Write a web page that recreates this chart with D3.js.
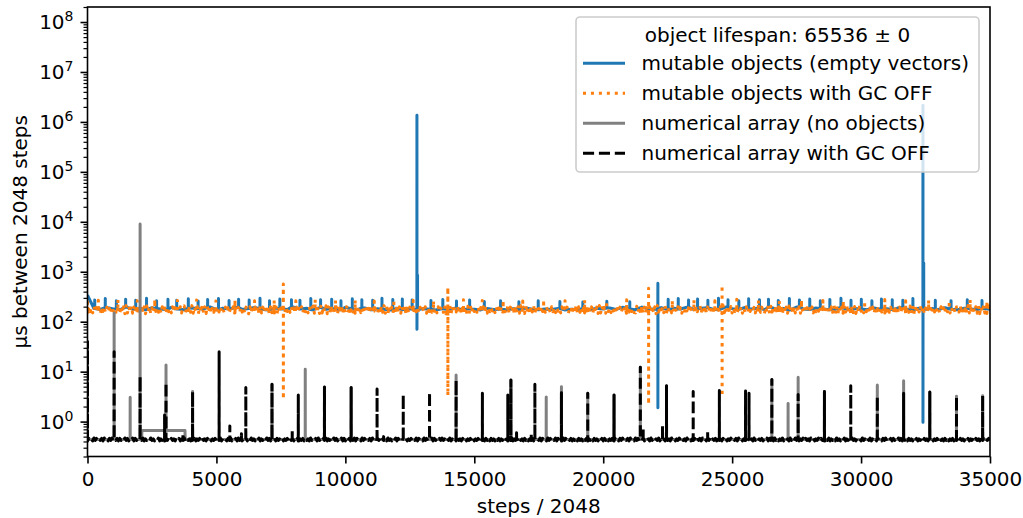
<!DOCTYPE html>
<html><head><meta charset="utf-8">
<script src="https://cdn.jsdelivr.net/npm/d3@7"></script>
<style>body{margin:0;background:#fff;} svg{display:block;font-family:"DejaVu Sans",sans-serif;}</style>
</head><body><svg id="chart" width="1023" height="518"></svg>
<script>
// ---------------- data ----------------
const X_MAX = 35000;
const xTickValues = [0, 5000, 10000, 15000, 20000, 25000, 30000, 35000];
const yTickExponents = [0, 1, 2, 3, 4, 5, 6, 7, 8];
const xLabel = "steps / 2048";
const yLabel = "µs between 2048 steps";
const legendTitle = "object lifespan: 65536 ± 0";
const seriesNames = ["mutable objects (empty vectors)", "mutable objects with GC OFF",
                     "numerical array (no objects)", "numerical array with GC OFF"];

// mutable objects (blue): base level sampled evenly over 0..35000
const blueBase = [340,
 184,176,192,180,172,196,178,186,174,190,182,176,194,180,173,188,184,178,198,174,
 186,180,192,176,183,194,178,172,188,182,176,196,180,186,174,192,178,184,173,194,
 180,176,188,174,182,178,172,186,176,180,174,184,178,172,182,176,186,174,180,178,
 172,184,176,178,174,182,176,188,178,174,180,176,184,172,178,176,182,174,186,180,
 188,176,194,180,174,196,182,178,192,174,186,180,196,176,184,190,178,174,196,182,
 176,192,180,186,174,194,178,184,172,196,180,176,188,182,174,178,192,176,184,180,
 174,188,178,182,176,192,180,174,186,178,184,176,190,178,174,186,180,176,184,178];
// single-sample spikes: [step, high] or [step, high, low]
const blueSpikes = [
 [280,272],[690,290],[1120,262],[1480,282],[1870,268],[2290,295],[2680,264],[3120,280],[3460,270],[3910,288],
 [4290,260],[4660,278],[5080,290],[5490,266],[5860,282],[6270,272],[6690,296],[7060,264],[7460,284],[7910,276],
 [8240,268],[8660,292],[9040,274],[9470,282],[9830,264],[10270,288],[10640,276],[11060,270],[11420,294],[11840,278],
 [12210,284],[12590,272],[12776,1.36e6,71],[12800,850],
 [13320,266],[13780,278],[14310,260],[14820,272],[15390,254],[16020,264],[16730,250],[17480,262],[18320,254],[19210,248],
 [20140,258],[21030,252],[22120,590,1.9],
 [22520,280],[22910,292],[23310,272],[23660,284],[24060,268],[24470,296],[24840,276],[25260,264],[25640,288],[26060,274],
 [26410,282],[26790,266],[27220,290],[27610,272],[28010,284],[28420,262],[28790,278],[29220,294],[29610,270],[30010,282],
 [30420,264],[30790,286],[31210,276],[31620,268],[32010,290],[32400,2.15e6,0.97],[32430,1500],
 [32880,270],[33490,262],[34120,274],[34690,266]];

// mutable objects with GC OFF (orange)
const orangeBase = [
 152,196,158,188,150,200,162,192,154,186,148,198,160,190,152,194,156,184,150,200,164,188,154,196,158,
 146,204,152,198,144,210,150,200,156,206,148,196,154,208,146,202,150,212,152,198,144,206,156,200,148,
 190,150,198,160,186,154,194,148,200,162,188,152,196,158,184,150,198,164,192,154,186,160,200,150,194,
 208,150,198,146,204,154,210,148,196,152,206,144,200,156,212,150,198,146,204,152,208,148,196,154,202,
 148,192,156,200,162,186,150,196,158,190,154,184,164,198,150,188,160,194,152,200,156,186,148,196,162,
 144,200,152,210,148,198,156,204,146,208,150,196,154,212,148,202,144,198,152,206,150,210,146,200,156,
 188,158,194,150,200,160,184,154,198,162,190,148,196,156,186,164,200,152,192,158,184,150,198,160,190,
 206,148,212,152,196,146,204,150,200,156,208,144,198,152,210,148,202,154,196,146,206,150,212,144,198,
 154,200,150,188,162,196,156,184,148,194,160,200,152,186,158,192,164,198,150,184,156,196,162,190,148,
 152,198,146,206,154,210,148,200,144,204,156,196,150,208,146,212,152,198,148,202,154,206,144,210,150,
 196,160,186,152,198,158,190,150,194,164,184,156,200,148,192,160,188,154,196,162,186,150,200,158,184,
 200,154,208,144,196,150,212,146,204,152,198,156,206,148,200,144,210,150,196,154,204,146,208,152,198,
 160,188,154,196,150,192,162,200,156,186,148,194,158,190,164,184,152,198,160,188,150,196,156,192,162,
 146,210,150,196,156,204,144,208,152,200,148,212,154,198,146,206,150,202,144,196,156,210,148,204,152,
 184,150,198,160,190,154,196,164,186,148,200,158,188,152,194,162,184,150,198,156,190,160,196,148,186,
 198,144,206,152,212,148,200,154,196,146,204,150,208,144,210,156,198,148,202,152,196,146,212,150,206,
 156,194,148,200,160,186,152,192,164,198,150,184,158,196,154,188,162,200,148,190,156,194,160,186,152,
 150,204,156,198,144,208,148,196,152,212,146,200,154,206,150,198,144,210,156,202,148,196,152,208,146,
 198,162,184,150,196,158,188,154,200,160,192,148,186,164,198,152,190,156,184,162,196,150,200,158,188,
 212,148,200,146,206,152,198,156,210,144,204,150,196,148,208,154,200,146,212,152,198,144,206,150,202,
 150,190,160,198,154,184,162,196,148,188,156,200,152,192,160,186,164,194,150,198,158,184,154,196,160,
 144,196,152,210,148,204,156,200,146,208,150,198,154,212,144,202,152,196,148,206,156,210,146,200,150,
 192,154,200,148,186,160,196,152,190,164,184,156,198,150,194,158,188,162,200,148,186,156,192,160,198,
 204,150,198,154,212,146,206,144,200,152,196,148,210,156,204,150,198,144,208,152,202,146,196,154,210,
 162,186,150,194,158,200,154,188,160,196,148,190,164,184,152,198,156,192,150,186,162,200,154,194,158,
 148,208,144,200,156,196,150,212,152,204,146,198,154,206,148,210,144,202,150,196,156,208,152,200,146,
 188,152,196,162,184,150,198,156,192,160,186,148,200,164,190,154,196,158,184,150,194,162,188,152,198,
 200,156,210,148,198,144,206,152,212,150,196,146,204,154,200,148,208,144,198,156,210,150,202,146,206,
 170];
const orangeSpikes = [
 [0,250],[420,268],[1180,275],[1930,262],[2610,280],[3490,266],[4230,272],[4980,260],[5720,278],[6480,264],[7240,270],
 [7595,570,2.8],[8080,262],[8830,276],[9620,266],[10380,272],[11120,260],[11880,280],[12630,268],[13420,262],
 [13975,490,3.3],[14580,274],[15310,266],[16120,270],[16880,260],[17690,278],[18520,264],[19280,272],[20130,262],
 [20910,276],[21760,470,2.2],[22680,266],[23520,272],[24330,262],[24610,540,3.2],[25180,280],[26020,268],[26830,262],
 [27690,274],[28520,266],[29310,270],[30140,260],[30920,278],[31730,264],[32620,272],[33420,262],[34230,276],[34880,268]];

// numerical array (gray): base level as [step, value], spikes [step, top]
const grayBase = [[0, 0.44], [2100, 0.44], [2110, 0.66], [3780, 0.66], [3790, 0.44], [35000, 0.44]];
const graySpikes = [[0, 30], [1033, 150], [1655, 3.07], [2040, 9000], [3045, 13.6], [4075, 4.0], [7155, 5.6],
 [8445, 11.2], [9190, 4.9], [10225, 4.8], [14295, 8.6], [16420, 6.8], [17790, 3.1], [18380, 5.0],
 [19400, 3.7], [20420, 3.4], [21440, 12.2], [22455, 5.2], [26540, 7.0], [27170, 2.3], [27560, 7.7],
 [28580, 4.0], [30630, 5.4], [31650, 6.6], [32665, 3.9], [33700, 3.2], [34715, 3.3]];

// numerical array with GC OFF (black): noisy floor sampled evenly over 0..35000
const blackBase = [
 0.41,0.46,0.42,0.45,0.41,0.47,0.42,0.46,0.41,0.45,0.42,0.46,0.41,0.47,0.42,0.45,0.41,0.46,0.42,0.47,0.41,0.45,0.42,0.46,0.41,
 0.46,0.42,0.45,0.41,0.47,0.42,0.46,0.41,0.45,0.42,0.47,0.41,0.46,0.42,0.45,0.41,0.46,0.42,0.47,0.41,0.45,0.42,0.46,0.41,0.47,
 0.42,0.45,0.41,0.46,0.42,0.47,0.41,0.45,0.42,0.46,0.41,0.45,0.42,0.47,0.41,0.46,0.42,0.45,0.41,0.47,0.42,0.46,0.41,0.45,0.42,
 0.47,0.41,0.46,0.42,0.45,0.41,0.47,0.42,0.46,0.41,0.45,0.42,0.46,0.41,0.47,0.42,0.45,0.41,0.46,0.42,0.47,0.41,0.45,0.42,0.46,
 0.41,0.45,0.42,0.47,0.41,0.46,0.42,0.45,0.41,0.46,0.42,0.47,0.41,0.45,0.42,0.46,0.41,0.47,0.42,0.45,0.41,0.46,0.42,0.46,0.41,
 0.46,0.41,0.47,0.42,0.45,0.41,0.46,0.42,0.47,0.41,0.45,0.42,0.46,0.41,0.47,0.42,0.46,0.41,0.45,0.42,0.47,0.41,0.46,0.42,0.45,
 0.42,0.47,0.41,0.45,0.42,0.46,0.41,0.47,0.42,0.45,0.41,0.46,0.42,0.47,0.41,0.45,0.42,0.46,0.41,0.46,0.42,0.45,0.41,0.47,0.42,
 0.45,0.42,0.46,0.41,0.47,0.42,0.45,0.41,0.46,0.42,0.47,0.41,0.45,0.42,0.46,0.41,0.47,0.42,0.46,0.41,0.45,0.42,0.47,0.41,0.46,
 0.41,0.47,0.42,0.46,0.41,0.45,0.42,0.47,0.41,0.46,0.42,0.45,0.41,0.47,0.42,0.46,0.41,0.45,0.42,0.46,0.41,0.47,0.42,0.45,0.41,
 0.46,0.42,0.47,0.41,0.45,0.42,0.46,0.41,0.47,0.42,0.45,0.41,0.46,0.42,0.47,0.41,0.46,0.42,0.45,0.41,0.47,0.42,0.46,0.41,0.45,
 0.42,0.46,0.41,0.45,0.42,0.47,0.41,0.46,0.42,0.45,0.41,0.47,0.42,0.46,0.41,0.45,0.42,0.47,0.41,0.46,0.42,0.45,0.41,0.46,0.42,
 0.47,0.42,0.45,0.41,0.46,0.42,0.47,0.41,0.45,0.42,0.46,0.41,0.47,0.42,0.45,0.41,0.46,0.42,0.47,0.41,0.45,0.42,0.46,0.41,0.47,
 0.41,0.45,0.42,0.46,0.41,0.47,0.42,0.45,0.41,0.46,0.42,0.47,0.41,0.46,0.42,0.45,0.41,0.47,0.42,0.46,0.41,0.45,0.42,0.47,0.41,
 0.45,0.41,0.46,0.42,0.47,0.41,0.45,0.42,0.46,0.41,0.47,0.42,0.45,0.41,0.46,0.42,0.47,0.41,0.45,0.42,0.46,0.41,0.47,0.42,0.46,
 0.42,0.47,0.41,0.46,0.42,0.45,0.41,0.47,0.42,0.46,0.41,0.45,0.42,0.47,0.41,0.46,0.42,0.45,0.41,0.47,0.42,0.46,0.41,0.45,0.42,
 0.46,0.41,0.45,0.42,0.47,0.41,0.46,0.42,0.45,0.41,0.47,0.42,0.46,0.41,0.45,0.42,0.47,0.41,0.46,0.42,0.45,0.41,0.47,0.42,0.46,
 0.41,0.46,0.42,0.47,0.41,0.45,0.42,0.46,0.41,0.47,0.42,0.45,0.41,0.46,0.42,0.47,0.41,0.45,0.42,0.46,0.41,0.47,0.42,0.45,0.41,
 0.47,0.42,0.46,0.41,0.45,0.42,0.47,0.41,0.46,0.42,0.45,0.41,0.47,0.42,0.46,0.41,0.45,0.42,0.47,0.41,0.46,0.42,0.45,0.41,0.46,
 0.42,0.45,0.41,0.47,0.42,0.46,0.41,0.45,0.42,0.47,0.41,0.46,0.42,0.45,0.41,0.47,0.42,0.46,0.41,0.45,0.42,0.46,0.41,0.47,0.42,
 0.46,0.41,0.47,0.42,0.45,0.41,0.46,0.42,0.47,0.41,0.45,0.42,0.46,0.41,0.47,0.42,0.45,0.41,0.46,0.42,0.47,0.41,0.45,0.42,0.47,
 0.41,0.45,0.42,0.46,0.41,0.47,0.42,0.46,0.41,0.45,0.42,0.47,0.41,0.46,0.42,0.45,0.41,0.47,0.42,0.46,0.41,0.45,0.42,0.46,0.41,
 0.45,0.42,0.47,0.41,0.46,0.42,0.45,0.41,0.47,0.42,0.46,0.41,0.45,0.42,0.47,0.41,0.46,0.42,0.45,0.41,0.47,0.42,0.46,0.41,0.47,
 0.42,0.46,0.41,0.45,0.42,0.47,0.41,0.46,0.42,0.45,0.41,0.47,0.42,0.46,0.41,0.45,0.42,0.47,0.41,0.46,0.42,0.45,0.41,0.47,0.42,
 0.47,0.41,0.45,0.42,0.46,0.41,0.47,0.42,0.45,0.41,0.46,0.42,0.47,0.41,0.45,0.42,0.46,0.41,0.47,0.42,0.45,0.41,0.46,0.42,0.45,
 0.41,0.47,0.42,0.45,0.41,0.46,0.42,0.47,0.41,0.45,0.42,0.46,0.41,0.47,0.42,0.45,0.41,0.46,0.42,0.47,0.41,0.45,0.42,0.46,0.41,
 0.46,0.42,0.45,0.41,0.47,0.42,0.46,0.41,0.45,0.42,0.47,0.41,0.46,0.42,0.45,0.41,0.47,0.42,0.46,0.41,0.45,0.42,0.47,0.41,0.46,
 0.42,0.45,0.41,0.46,0.42,0.47,0.41,0.45,0.42,0.46,0.41,0.47,0.42,0.45,0.41,0.46,0.42,0.47,0.41,0.45,0.42,0.46,0.41,0.47,0.42,
 0.47,0.41,0.46,0.42,0.45,0.41,0.47,0.42,0.46,0.41,0.45,0.42,0.47,0.41,0.46,0.42,0.45,0.41,0.47,0.42,0.46,0.41,0.45,0.42,0.46,
 0.43];
const blackSpikes = [[0, 40], [1033, 25], [2040, 8], [2990, 1.35], [3045, 6], [3700, 0.57], [4075, 4.0], [5105, 25],
 [5520, 0.82], [5970, 0.57], [6140, 4.8], [7155, 5.6], [7940, 0.70], [8175, 3.4], [9190, 4.9],
 [10225, 4.8], [11230, 4.5], [11485, 0.5], [12245, 3.5], [13265, 3.9], [14295, 6.8], [15315, 3.7],
 [16300, 3.4], [16420, 6.8], [16640, 0.6], [17210, 0.6], [17350, 5.6], [18380, 3.8], [19400, 3.7],
 [20420, 3.4], [21440, 12.2], [21550, 0.75], [22300, 0.86], [22455, 5.2], [23490, 4.0], [24050, 0.68],
 [24505, 4.2], [25520, 4.1], [25655, 3.7], [26540, 7.0], [27560, 3.5], [28580, 4.0], [29600, 5.2],
 [30630, 3.2], [31650, 3.7], [32665, 3.9], [33700, 3.2], [34715, 3.3]];

// ---------------- build ----------------
function fromGrid(base, spikes) {
  const step = X_MAX / (base.length - 1);
  const pts = base.map((v, i) => ({x: i * step, y: v}));
  const lvl = x => base[Math.min(base.length - 1, Math.round(x / step))];
  spikes.forEach(s => {
    const b = lvl(s[0]);
    pts.push({x: s[0] - 2, y: b}, {x: s[0], y: s[1]}, {x: s[0] + 1, y: s.length > 2 ? s[2] : b}, {x: s[0] + 3, y: b});
  });
  return pts.sort((a, b) => a.x - b.x);
}
function fromPairs(base, spikes) {
  const pts = base.map(p => ({x: p[0], y: p[1]}));
  const lvl = x => { let v = base[0][1]; base.forEach(p => { if (p[0] <= x) v = p[1]; }); return v; };
  spikes.forEach(s => {
    const b = lvl(s[0]);
    pts.push({x: s[0] - 2, y: b}, {x: s[0], y: s[1]}, {x: s[0] + 2, y: b});
  });
  return pts.sort((a, b) => a.x - b.x);
}

const series = [
  {name: seriesNames[0], pts: fromGrid(blueBase, blueSpikes), color: "#1f77b4", dash: null},
  {name: seriesNames[1], pts: fromGrid(orangeBase, orangeSpikes), color: "#ff7f0e", dash: "3,4.95"},
  {name: seriesNames[2], pts: fromPairs(grayBase, graySpikes), color: "#808080", dash: null},
  {name: seriesNames[3], pts: fromGrid(blackBase, blackSpikes), color: "#000000", dash: "11.1,4.8"}
];

// ---------------- draw ----------------
const L = 87.5, R = 990, T = 7, B = 456.5;
const svg = d3.select("#chart");
const x = d3.scaleLinear().domain([0, X_MAX]).range([L, R]);
const y = d3.scaleLog().domain([0.2, 2e8]).range([B, T]);

svg.append("defs").append("clipPath").attr("id", "clip")
  .append("rect").attr("x", L).attr("y", T).attr("width", R - L).attr("height", B - T);

const line = d3.line().x(d => x(d.x)).y(d => y(d.y));
const plot = svg.append("g").attr("clip-path", "url(#clip)");
series.forEach(s => {
  plot.append("path").attr("d", line(s.pts)).attr("fill", "none")
    .attr("stroke", s.color).attr("stroke-width", 3)
    .attr("stroke-dasharray", s.dash).attr("stroke-linejoin", "round").attr("stroke-linecap", "butt");
});

// x axis
const xAxis = svg.append("g").attr("transform", `translate(0,${B})`)
  .call(d3.axisBottom(x).tickValues(xTickValues).tickFormat(d3.format("d")).tickSize(7).tickSizeOuter(0));
xAxis.select(".domain").remove();
xAxis.selectAll("line").attr("stroke-width", 1.6);
xAxis.selectAll("text").attr("y", 29.5).attr("dy", null).attr("font-size", 20)
  .attr("font-family", "DejaVu Sans").attr("fill", "#000");

// y axis major + minor ticks
const yAxis = svg.append("g").attr("transform", `translate(${L},0)`)
  .call(d3.axisLeft(y).tickValues(yTickExponents.map(e => Math.pow(10, e))).tickFormat("").tickSize(7).tickSizeOuter(0));
yAxis.select(".domain").remove();
yAxis.selectAll("line").attr("stroke-width", 1.6);
const minorVals = [];
for (let e = -1; e <= 8; e++) for (let m = 2; m <= 9; m++) {
  const v = m * Math.pow(10, e);
  if (v >= 0.2 && v <= 2e8) minorVals.push(v);
}
const yMinor = svg.append("g").attr("transform", `translate(${L},0)`)
  .call(d3.axisLeft(y).tickValues(minorVals).tickFormat("").tickSize(4).tickSizeOuter(0));
yMinor.select(".domain").remove();
yMinor.selectAll("line").attr("stroke-width", 1.2);

yTickExponents.forEach(e => {
  const t = svg.append("text").attr("x", L - 14).attr("y", y(Math.pow(10, e)) + 7.3)
    .attr("text-anchor", "end").attr("font-size", 20).attr("fill", "#000");
  t.append("tspan").text("10");
  t.append("tspan").attr("dy", -8.3).attr("font-size", 14).text(e);
});

// frame
svg.append("rect").attr("x", L).attr("y", T).attr("width", R - L).attr("height", B - T)
  .attr("fill", "none").attr("stroke", "#000").attr("stroke-width", 1.6);

// labels
svg.append("text").attr("x", (L + R) / 2).attr("y", 513).attr("text-anchor", "middle")
  .attr("font-size", 20).text(xLabel);
svg.append("text").attr("transform", `translate(27,${(T + B) / 2}) rotate(-90)`)
  .attr("text-anchor", "middle").attr("font-size", 20).text(yLabel);

// legend
const lg = svg.append("g");
lg.append("rect").attr("x", 576).attr("y", 17).attr("width", 403).attr("height", 155).attr("rx", 4)
  .attr("fill", "#fff").attr("fill-opacity", 0.8).attr("stroke", "#cccccc").attr("stroke-width", 1.6);
lg.append("text").attr("x", 777.5).attr("y", 41.5).attr("text-anchor", "middle").attr("font-size", 20).text(legendTitle);
series.forEach((s, i) => {
  const yy = 63.3 + i * 30;
  lg.append("line").attr("x1", 583).attr("x2", 625).attr("y1", yy).attr("y2", yy)
    .attr("stroke", s.color).attr("stroke-width", 3).attr("stroke-dasharray", s.dash);
  lg.append("text").attr("x", 641.5).attr("y", yy + 6.7).attr("font-size", 20).text(s.name);
});
</script></body></html>
